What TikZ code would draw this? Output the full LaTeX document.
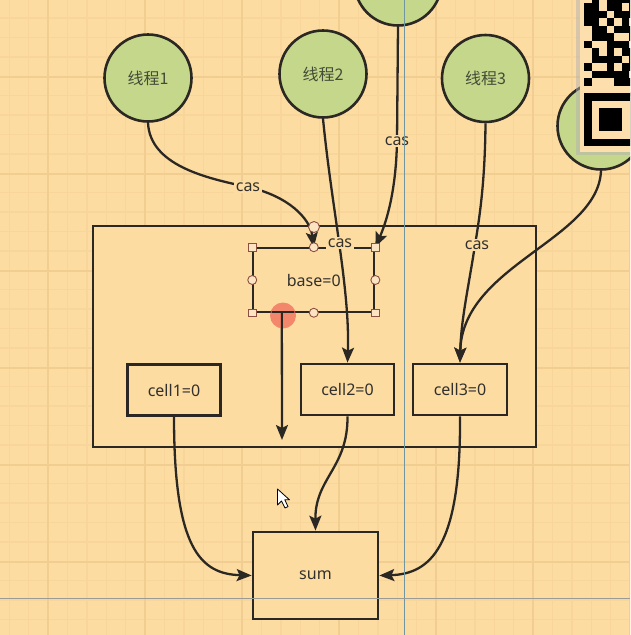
\documentclass[tikz,border=0pt]{standalone}
\usepackage{fontspec}
\setmainfont{Noto Sans}
\newfontfamily\cjk{Noto Sans CJK SC}
\usetikzlibrary{arrows.meta}
\definecolor{bg}{RGB}{253,220,162}
\definecolor{gridminor}{RGB}{247,213,155}
\definecolor{gridmajor}{RGB}{241,205,146}
\definecolor{ink}{RGB}{43,40,36}
\definecolor{thr}{RGB}{197,215,138}
\definecolor{thrtext}{RGB}{66,76,56}
\definecolor{txt}{RGB}{50,48,45}
\definecolor{handle}{RGB}{140,80,64}
\definecolor{handlefill}{RGB}{252,228,195}
\definecolor{guidev}{RGB}{112,150,160}
\definecolor{guideh}{RGB}{155,155,150}
\definecolor{dotred}{RGB}{240,100,85}
\definecolor{qrbg}{RGB}{252,223,172}
\begin{document}
\begin{tikzpicture}[x=1pt,y=-1pt,
  thread/.style={circle,draw=ink,line width=2.6pt,fill=thr,minimum size=87pt,inner sep=0pt,font=\cjk\fontsize{16}{19}\selectfont,text=thrtext},
  box/.style={draw=ink,line width=2.7pt,fill=bg,inner sep=0pt,font=\fontsize{16}{19}\selectfont,text=txt},
  conn/.style={draw=ink,line width=2.3pt,-{Stealth[length=15pt,width=12pt,inset=3pt]}},
  lab/.style={fill=bg,inner sep=1.5pt,font=\fontsize{16}{19}\selectfont,text=txt},
  sqh/.style={draw=handle,fill=handlefill,line width=0.9pt,minimum size=7.5pt,inner sep=0pt},
  cih/.style={circle,draw=handle,fill=handlefill,line width=0.9pt,minimum size=9pt,inner sep=0pt},
  gmin/.style={draw=gridminor,line width=1.4pt},
  gmaj/.style={draw=gridmajor,line width=1.6pt},
]
\useasboundingbox (0,0) rectangle (630,635);
\begin{scope}
\clip (0,0) rectangle (630,635);
% background and grid
\fill[bg] (0,0) rectangle (630,635);
\foreach \i in {0,...,32} { \draw[gmin] ({9.2+19.4*\i},0) -- ({9.2+19.4*\i},635); }
\foreach \i in {0,...,33} { \draw[gmin] (0,{-1.4+19.4*\i}) -- (630,{-1.4+19.4*\i}); }
\foreach \i in {0,...,6} { \draw[gmaj] ({48+97*\i},0) -- ({48+97*\i},635); }
\foreach \i in {0,...,6} { \draw[gmaj] (0,{-20+97*\i}) -- (630,{-20+97*\i}); }

% boxes
\node[box,minimum width=443pt,minimum height=221pt] (main) at (314.5,336.5) {};
\node[box,line width=2.1pt,minimum width=121pt,minimum height=63.4pt] (base) at (313.8,280) {base=0};
\node[box,minimum width=93pt,minimum height=51pt] (cell1) at (174,390) {cell1=0};
\node[box,minimum width=93pt,minimum height=51pt] (cell2) at (347.5,389.5) {cell2=0};
\node[box,minimum width=94pt,minimum height=51pt] (cell3) at (460,389.5) {cell3=0};
\node[box,minimum width=125pt,minimum height=87pt] (sum) at (315.5,575.5) {sum};

% threads
\node[thread] (t1) at (148,78) {线程1};
\node[thread] (t2) at (323,74) {线程2};
\node[thread] (t3) at (485.5,78.5) {线程3};
\node[thread] (ttop) at (398,-18) {};
\node[thread] (tright) at (601,126) {};

% connectors
\draw[conn] (t1.south) .. controls (150,165) and (205,178) .. (248,187) .. controls (288,196) and (310,218) .. (base.north);
\draw[conn] (t2.south) .. controls (332,210) and (350,290) .. (cell2.north);
\draw[conn] (ttop.south) -- (397,141) .. controls (396,195) and (385,225) .. (base.north east);
\draw[conn] (t3.south) .. controls (485,180) and (480,215) .. (475,245) .. controls (468,290) and (461,320) .. (cell3.north);
\draw[conn] (tright.south) .. controls (598,240) and (462,265) .. (cell3.north);
\coordinate (free) at (282,440);
\draw[conn] ([xshift=-32pt]base.south) -- (free);
\draw[conn] (cell1.south) .. controls (174,548) and (200,574) .. (sum.west);
\draw[conn] (cell2.south) .. controls (348,468) and (315,478) .. (sum.north);
\draw[conn] (cell3.south) .. controls (461,548) and (430,574) .. (sum.east);

% labels
\node[lab] (l1) at (248,187) {cas};
\node[lab] (l2) at (340,243) {cas};
\node[lab] (l3) at (397,141) {cas};
\node[lab] (l4) at (477,245) {cas};

% selection handles
\node[sqh] (h1) at (base.north west) {};
\node[sqh] (h2) at (base.north east) {};
\node[sqh] (h3) at (base.south west) {};
\node[sqh] (h4) at (base.south east) {};
\node[cih] (h5) at (base.north) {};
\node[cih] (h6) at (base.south) {};
\node[cih] (h7) at (base.west) {};
\node[cih] (h8) at (base.east) {};
\node[cih,minimum size=11pt] (hrot) at (314,227) {};

% red dot
\fill[dotred,opacity=0.7] (283,315.5) circle (13);
\draw[ink,line width=2.1pt] (272,312) -- (294,312);
\draw[ink,line width=2.3pt] (282,312) -- (282,330);

% cursor
\draw[fill=white,draw=black,line width=0.8pt,line join=round] (277.5,489) -- (277.5,505) -- (281.5,501) -- (285,508) -- (288,506.6) -- (284.8,499.8) -- (289.5,499.8) -- cycle;

% QR code
\fill[black!30,opacity=0.5] (576,0) rectangle (630,155);
\fill[qrbg] (579.5,0) rectangle (630,152);
\foreach \c/\r in {1/-13,3/-13,4/-13,5/-13,6/-13,
                   0/-12,1/-12,3/-12,4/-12,6/-12,
                   0/-11,1/-11,2/-11,4/-11,5/-11,6/-11,
                   0/-10,1/-10,3/-10,5/-10,
                   1/-9,2/-9,4/-9,5/-9,6/-9,
                   1/-8,2/-8,3/-8,6/-8,
                   0/-7,3/-7,4/-7,5/-7,
                   1/-6,3/-6,5/-6,6/-6,
                   1/-5,2/-5,3/-5,4/-5,6/-5,
                   0/-4,3/-4,5/-4,6/-4,
                   1/-3,2/-3,3/-3,4/-3,5/-3,
                   0/-2,4/-2,5/-2,6/-2}
  { \fill[black] ({584+7.5*\c},{93+7.5*\r}) rectangle ++(7.6,7.6); }
\fill[black] (584,93) rectangle (637,146);
\fill[qrbg] (591.5,100.5) rectangle (629.5,138.5);
\fill[black] (599,108) rectangle (622,131);

% guide lines
\draw[guidev,line width=1pt] (404,0) -- (404,635);
\draw[guideh,line width=1pt] (0,598) -- (630,598);
\end{scope}
\end{tikzpicture}
\end{document}
